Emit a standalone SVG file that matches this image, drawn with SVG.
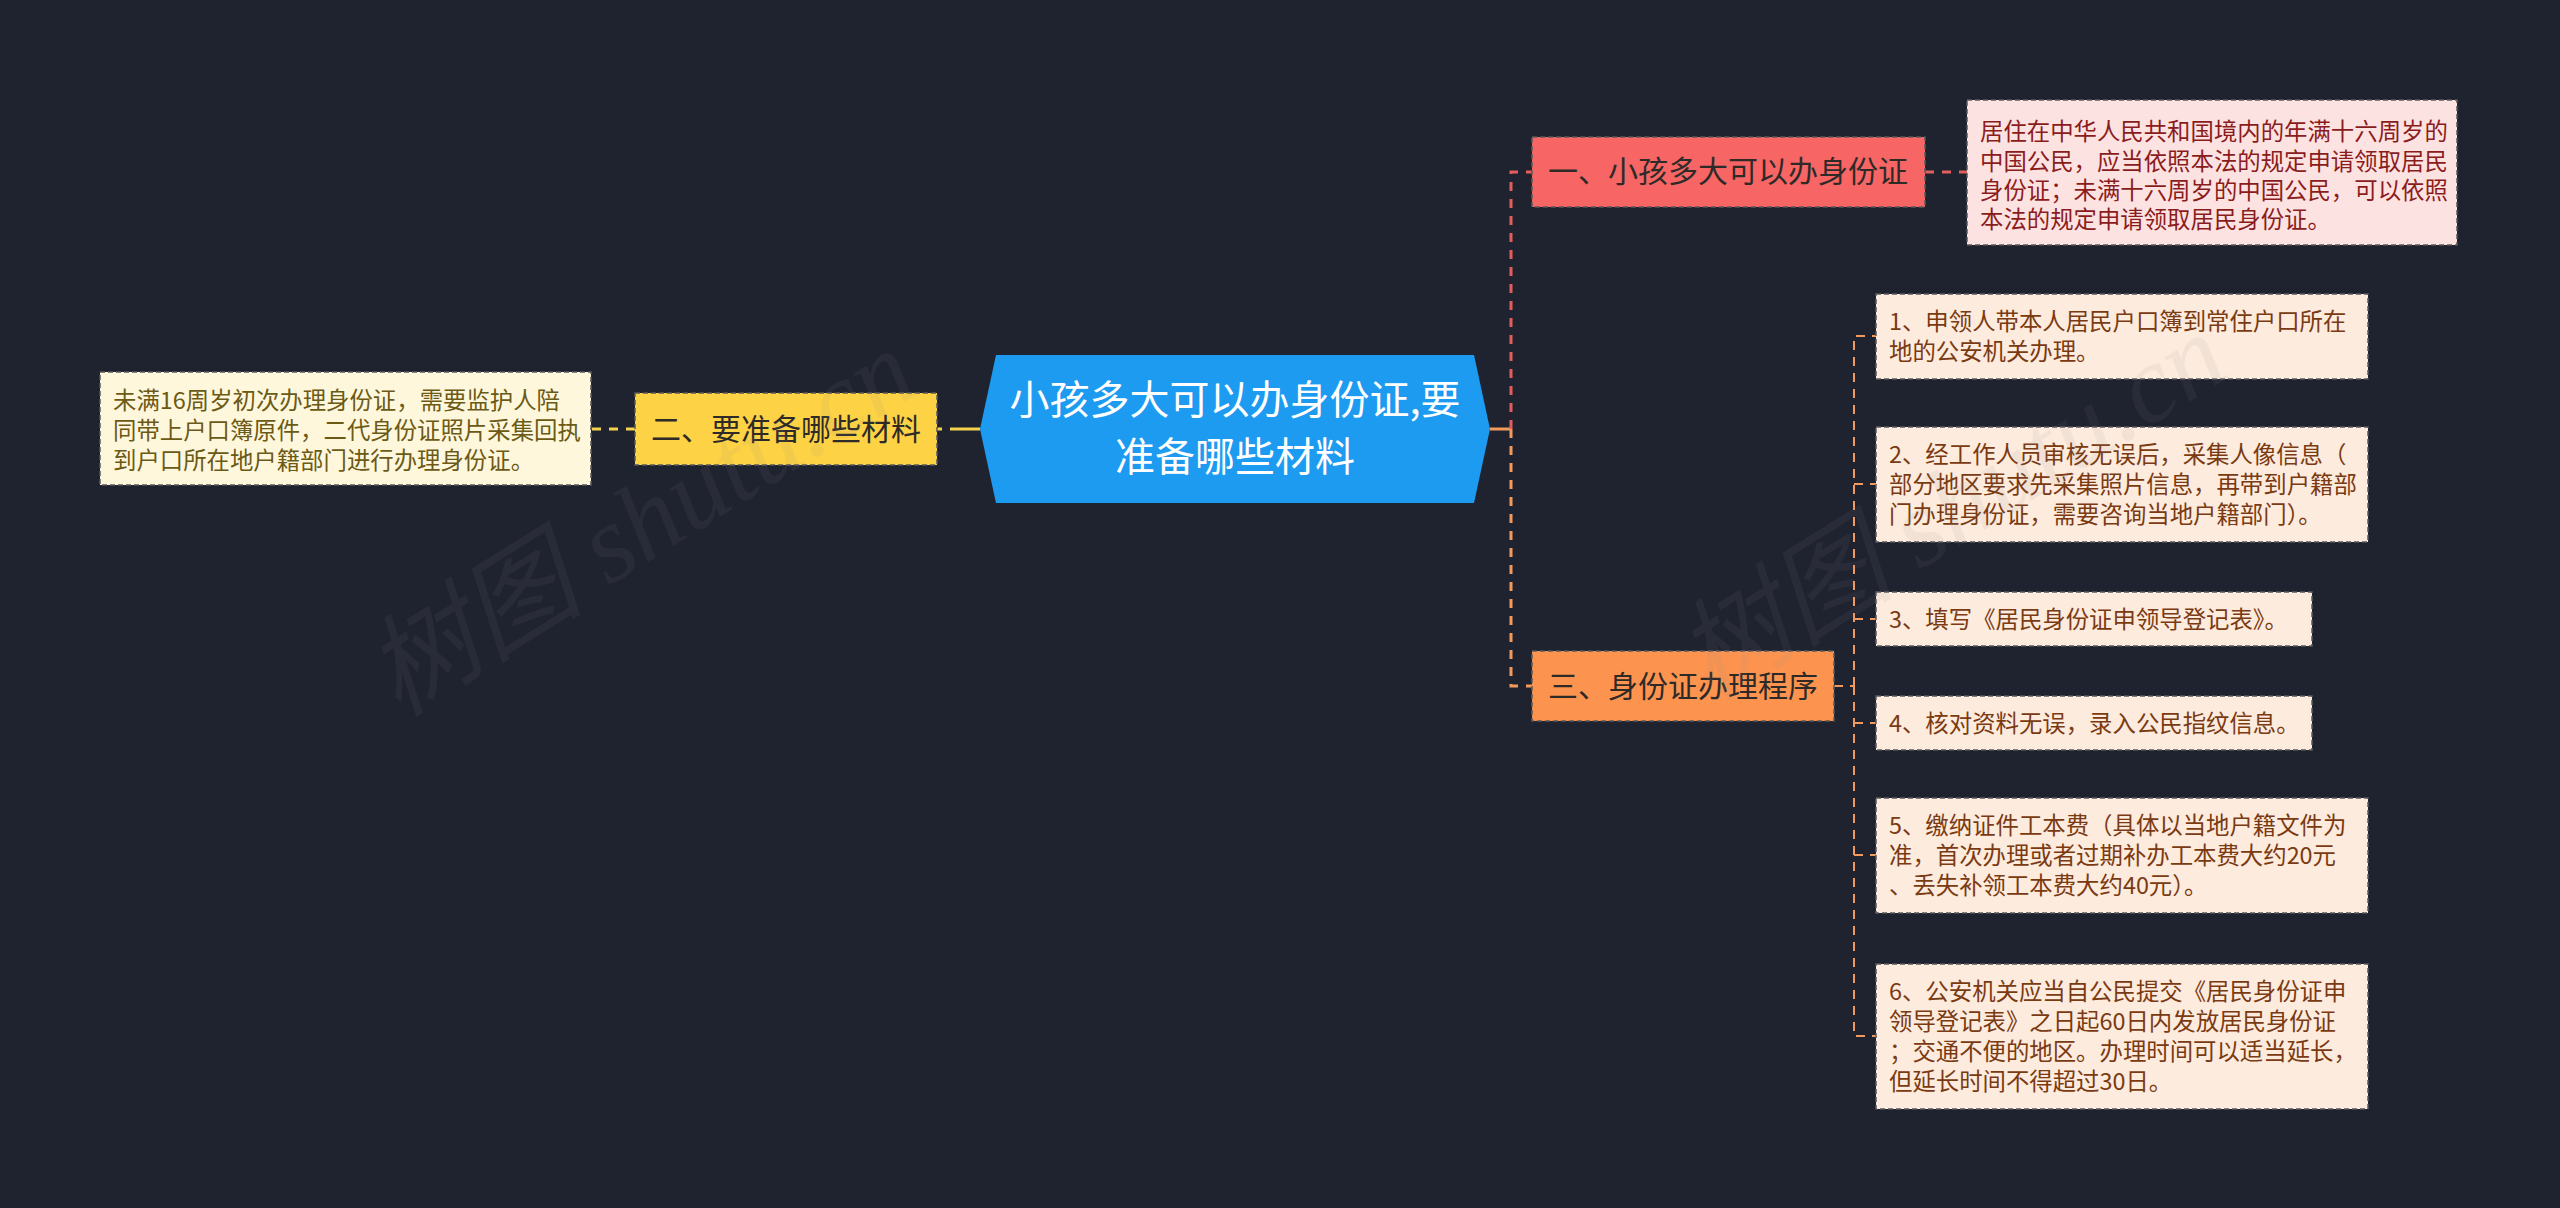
<svg xmlns="http://www.w3.org/2000/svg" width="2560" height="1208" viewBox="0 0 2560 1208">
<style>
text{font-family:"Noto Sans CJK SC","Noto Sans",sans-serif}
.root{fill:#ffffff;font-size:40px}
.l1{font-size:30px;fill:#2e2a28}
.d{font-size:23.4px}
.bd{stroke:#5a5a5a;stroke-width:1.5;stroke-dasharray:5 3}
.c{fill:none}
.red{stroke:#e35d5d}
.org{stroke:#f29a5c}
.yel{stroke:#f5d24c}
.w3{stroke-width:3;stroke-dasharray:9 8}
.w2{stroke-width:2;stroke-dasharray:9 7}
.wm{font-family:"Liberation Serif","Noto Sans CJK SC",serif;font-style:italic;font-size:110px;fill:#8a8a8a;opacity:0.09}
</style>
<rect x="0" y="0" width="2560" height="1208" fill="#1f2330"/>

<g id="connectors">
<path class="c yel" stroke-width="3" stroke-dasharray="30 8 5 100" d="M980,429 H937"/>
<path class="c yel w3" d="M635,429 H591"/>
<path class="c org" stroke-width="3" d="M1490,429 H1511"/>
<path class="c red w3" d="M1511,429 V172 H1532"/>
<path class="c org w3" d="M1511,429 V686 H1532"/>
<path class="c red w3" d="M1925,172 H1967"/>
<path class="c org w2" d="M1834,686 H1854"/>
<path class="c org w2" d="M1854,686 V336 H1876"/>
<path class="c org w2" d="M1854,686 V1036 H1876"/>
<path class="c org w2" d="M1854,484 H1876"/>
<path class="c org w2" d="M1854,619 H1876"/>
<path class="c org w2" d="M1854,723 H1876"/>
<path class="c org w2" d="M1854,855 H1876"/>
</g>

<g id="root">
<polygon points="980,429 996,355 1474,355 1490,429 1474,503 996,503" fill="#1d9bf0"/>
<text class="root" x="1235" y="414" text-anchor="middle">小孩多大可以办身份证,要</text>
<text class="root" x="1235" y="471" text-anchor="middle">准备哪些材料</text>
</g>

<g id="n1">
<rect class="bd" x="1532" y="137" width="393" height="70" fill="#f76565"/>
<text class="l1" x="1728" y="182" text-anchor="middle">一、小孩多大可以办身份证</text>
</g>
<g id="n1d">
<rect class="bd" x="1967" y="100" width="490" height="145" fill="#fde2e2"/>
<g class="d" fill="#8b1c1c">
<text x="1980" y="140">居住在中华人民共和国境内的年满十六周岁的</text>
<text x="1980" y="170">中国公民，应当依照本法的规定申请领取居民</text>
<text x="1980" y="199">身份证；未满十六周岁的中国公民，可以依照</text>
<text x="1980" y="228">本法的规定申请领取居民身份证。</text>
</g>
</g>

<g id="n2">
<rect class="bd" x="635" y="393" width="302" height="72" fill="#fdd245"/>
<text class="l1" x="786" y="440" text-anchor="middle">二、要准备哪些材料</text>
</g>
<g id="n2d">
<rect class="bd" x="100" y="372" width="491" height="113" fill="#fff7dc"/>
<g class="d" fill="#6b5a16">
<text x="113" y="409">未满16周岁初次办理身份证，需要监护人陪</text>
<text x="113" y="439">同带上户口簿原件，二代身份证照片采集回执</text>
<text x="113" y="469">到户口所在地户籍部门进行办理身份证。</text>
</g>
</g>

<g id="n3">
<rect class="bd" x="1532" y="651" width="302" height="70" fill="#fc9450"/>
<text class="l1" x="1683" y="697" text-anchor="middle">三、身份证办理程序</text>
</g>

<g class="d" fill="#7a3a12">
<g id="s1">
<rect class="bd" x="1876" y="294" width="492" height="85" fill="#fdebdd"/>
<text x="1889" y="330">1、申领人带本人居民户口簿到常住户口所在</text>
<text x="1889" y="360">地的公安机关办理。</text>
</g>
<g id="s2">
<rect class="bd" x="1876" y="427" width="492" height="115" fill="#fdebdd"/>
<text x="1889" y="463">2、经工作人员审核无误后，采集人像信息（</text>
<text x="1889" y="493">部分地区要求先采集照片信息，再带到户籍部</text>
<text x="1889" y="523">门办理身份证，需要咨询当地户籍部门）。</text>
</g>
<g id="s3">
<rect class="bd" x="1876" y="592" width="436" height="54" fill="#fdebdd"/>
<text x="1889" y="628">3、填写《居民身份证申领导登记表》。</text>
</g>
<g id="s4">
<rect class="bd" x="1876" y="696" width="436" height="54" fill="#fdebdd"/>
<text x="1889" y="732">4、核对资料无误，录入公民指纹信息。</text>
</g>
<g id="s5">
<rect class="bd" x="1876" y="798" width="492" height="115" fill="#fdebdd"/>
<text x="1889" y="834">5、缴纳证件工本费（具体以当地户籍文件为</text>
<text x="1889" y="864">准，首次办理或者过期补办工本费大约20元</text>
<text x="1889" y="894">、丢失补领工本费大约40元）。</text>
</g>
<g id="s6">
<rect class="bd" x="1876" y="964" width="492" height="145" fill="#fdebdd"/>
<text x="1889" y="1000">6、公安机关应当自公民提交《居民身份证申</text>
<text x="1889" y="1030">领导登记表》之日起60日内发放居民身份证</text>
<text x="1889" y="1060">；交通不便的地区。办理时间可以适当延长，</text>
<text x="1889" y="1090">但延长时间不得超过30日。</text>
</g>
</g>

<g id="watermark">
<text class="wm" x="640" y="560" text-anchor="middle" transform="rotate(-32 640 522)">树图 shutu.cn</text>
<text class="wm" x="1951" y="544" text-anchor="middle" transform="rotate(-32 1951 506)">树图 shutu.cn</text>
</g>
</svg>
